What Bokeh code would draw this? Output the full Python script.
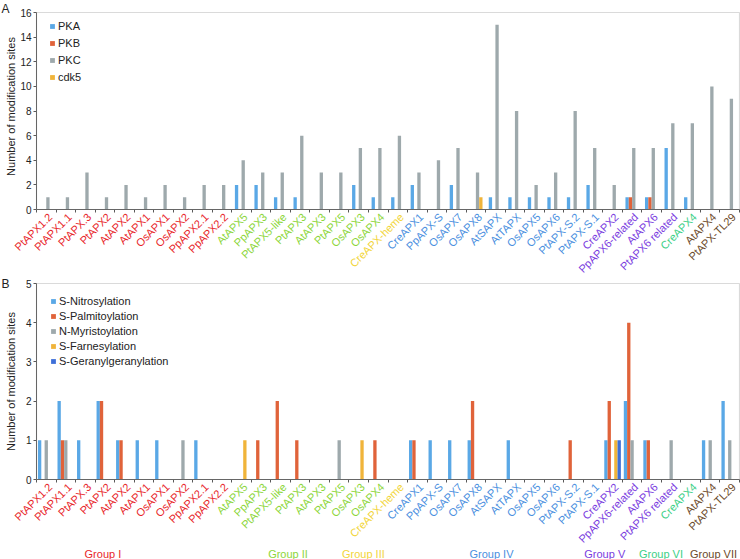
from bokeh.plotting import figure
from bokeh.models import (Range1d, FixedTicker, ColumnDataSource, Legend, LegendItem, LinearAxis,
                          BoxAnnotation, CustomJSTickFormatter)
from bokeh.transform import dodge
from bokeh.layouts import column
from bokeh.embed import file_html
from bokeh.resources import INLINE
from bokeh.core.properties import value

# ---------------- data ----------------
categories = ["PtAPX1.2", "PtAPX1.1", "PtAPX.3", "PtAPX2", "AtAPX2", "AtAPX1", "OsAPX1", "OsAPX2",
              "PpAPX2.1", "PpAPX2.2",
              "AtAPX5", "PpAPX3", "PtAPX5-like", "PtAPX3", "AtAPX3", "PtAPX5", "OsAPX3", "OsAPX4",
              "CreAPX-heme",
              "CreAPX1", "PpAPX-S", "OsAPX7", "OsAPX8", "AtSAPX", "AtTAPX", "OsAPX5", "OsAPX6",
              "PtAPX-S.2", "PtAPX-S.1",
              "CreAPX2", "PpAPX6-related", "AtAPX6", "PtAPX6 related",
              "CreAPX4",
              "AtAPX4", "PtAPX-TL29"]
groups = ["Group I"] * 10 + ["Group II"] * 8 + ["Group III"] + ["Group IV"] * 10 + \
         ["Group V"] * 4 + ["Group VI"] + ["Group VII"] * 2
group_names = ["Group I", "Group II", "Group III", "Group IV", "Group V", "Group VI", "Group VII"]

# Panel A: phosphorylation sites
pka  = [0, 0, 0, 0, 0, 0, 0, 0, 0, 0, 2, 2, 1, 1, 0, 0, 2, 1, 1, 2, 0, 2, 0, 1, 1, 1, 1, 1, 2, 0, 1, 1, 5, 1, 0, 0]
pkb  = [0, 0, 0, 0, 0, 0, 0, 0, 0, 0, 0, 0, 0, 0, 0, 0, 0, 0, 0, 0, 0, 0, 0, 0, 0, 0, 0, 0, 0, 0, 1, 1, 0, 0, 0, 0]
pkc  = [1, 1, 3, 1, 2, 1, 2, 1, 2, 2, 4, 3, 3, 6, 3, 3, 5, 5, 6, 3, 4, 5, 3, 15, 8, 2, 3, 8, 5, 2, 5, 5, 7, 7, 10, 9]
cdk5 = [0, 0, 0, 0, 0, 0, 0, 0, 0, 0, 0, 0, 0, 0, 0, 0, 0, 0, 0, 0, 0, 0, 1, 0, 0, 0, 0, 0, 0, 0, 0, 0, 0, 0, 0, 0]

# Panel B: other modifications
s_nitrosylation = [1, 2, 1, 2, 1, 1, 1, 0, 1, 0, 0, 0, 0, 0, 0, 0, 0, 0, 0, 1, 1, 1, 1, 0, 1, 0, 0, 0, 0, 1, 2, 1, 0, 0, 1, 2]
s_palmitoylation = [0, 1, 0, 2, 1, 0, 0, 0, 0, 0, 0, 1, 2, 1, 0, 0, 0, 1, 0, 1, 0, 0, 2, 0, 0, 0, 0, 1, 0, 2, 4, 1, 0, 0, 0, 0]
n_myristoylation = [1, 1, 0, 0, 0, 0, 0, 1, 0, 0, 0, 0, 0, 0, 0, 1, 0, 0, 0, 0, 0, 0, 0, 0, 0, 0, 0, 0, 0, 0, 1, 0, 1, 0, 1, 1]
s_farnesylation  = [0, 0, 0, 0, 0, 0, 0, 0, 0, 0, 1, 0, 0, 0, 0, 0, 1, 0, 0, 0, 0, 0, 0, 0, 0, 0, 0, 0, 0, 1, 0, 0, 0, 0, 0, 0]
s_geranylgeranylation = [0, 0, 0, 0, 0, 0, 0, 0, 0, 0, 0, 0, 0, 0, 0, 0, 0, 0, 0, 0, 0, 0, 0, 0, 0, 0, 0, 0, 0, 1, 0, 0, 0, 0, 0, 0]

# ---------------- layout / styles ----------------
FONT = "Liberation Sans"
C_BLUE, C_ORANGE, C_GRAY, C_YELLOW, C_DBLUE = "#5aa8e6", "#e0633a", "#9ea9ac", "#f0b43a", "#3e6fd8"
group_colors = {"Group I": "#e8262a", "Group II": "#8cd63a", "Group III": "#f2d53a", "Group IV": "#4a8fe0",
                "Group V": "#7a3ce0", "Group VI": "#3ccf86", "Group VII": "#6b4a2a"}
group_label_x = [3.40, 12.88, 16.74, 23.3, 29.1, 31.98, 34.67]
AXIS_COLOR = "#595959"
BOX_COLOR = "#858585"
TEXT_COLOR = "#222222"
BAR_W = 0.17
N = len(categories)
W = 740
LEFT, RIGHT = 36, 1
UPP = N / (W - LEFT - RIGHT)          # data units per pixel along x
X0 = -LEFT * UPP                      # data x of the canvas' left edge
slot = [i + 0.5 for i in range(N)]   # centre of each category slot
bounds = list(range(N + 1))          # slot boundaries (tick positions)


def make_panel(height, px_top, px_zero, ymax, ystep, series, data, letter,
               legend_left, legend_top, row_h, row_gap, title_center_px, letter_px):
    ppu = (px_zero - px_top) / ymax   # pixels per y unit
    p = figure(width=W, height=height,
               x_range=Range1d(X0, N + RIGHT * UPP),
               y_range=Range1d(-(height - px_zero) / ppu, ymax + px_top / ppu),
               x_axis_location=None, y_axis_location=None, output_backend="svg",
               toolbar_location=None, min_border_left=0, min_border_right=0,
               min_border_top=0, min_border_bottom=0)
    p.xgrid.visible = False
    p.ygrid.visible = False
    p.outline_line_color = None

    # plot box (top and right edges visible)
    p.add_layout(BoxAnnotation(left=0, right=N, bottom=0, top=ymax, fill_alpha=0,
                               line_color=BOX_COLOR, line_width=1.2))

    ya = LinearAxis(fixed_location=0, bounds=(0, ymax),
                    ticker=FixedTicker(ticks=list(range(0, ymax + 1, ystep))))
    ya.axis_line_color = AXIS_COLOR
    ya.major_tick_line_color = AXIS_COLOR
    ya.major_tick_in = 0
    ya.major_tick_out = 3
    ya.minor_tick_line_color = None
    ya.major_label_standoff = 2
    ya.major_label_text_font = FONT
    ya.major_label_text_font_size = "10px"
    ya.major_label_text_color = TEXT_COLOR
    p.add_layout(ya, "left")

    xa = LinearAxis(fixed_location=0, bounds=(0, N), ticker=FixedTicker(ticks=bounds),
                    formatter=CustomJSTickFormatter(code="return ''"))
    xa.axis_line_color = AXIS_COLOR
    xa.major_tick_line_color = AXIS_COLOR
    xa.major_tick_in = 0
    xa.major_tick_out = 3
    xa.minor_tick_line_color = None
    p.add_layout(xa, "below")

    # y-axis title
    p.text(x=[X0 + 10 * UPP], y=[(px_zero - title_center_px) / ppu],
           text=["Number of modification sites"], angle=90,
           angle_units="deg", text_align="center", text_baseline="middle",
           text_font=value(FONT), text_font_size="11px", text_color=TEXT_COLOR)
    # panel letter
    p.text(x=[X0 + 1 * UPP], y=[(px_zero - letter_px) / ppu], text=[letter], text_align="left",
           text_baseline="top", text_font=value(FONT), text_font_size="12px", text_color=TEXT_COLOR)

    src = ColumnDataSource(dict(slot=slot, **data))
    k = len(series)
    items = []
    for i, (key, color, lab) in enumerate(series):
        off = (i - (k - 1) / 2) * BAR_W
        r = p.vbar(x=dodge("slot", off), top=key, width=BAR_W, source=src,
                   fill_color=color, line_color=None)
        items.append(LegendItem(label=lab, renderers=[r]))

    leg_h = k * row_h + (k - 1) * row_gap
    leg = Legend(items=items, location=(legend_left, height - legend_top - leg_h),
                 border_line_color=None, background_fill_alpha=0, margin=0, padding=0,
                 spacing=row_gap, glyph_width=6, glyph_height=6, label_height=row_h,
                 label_standoff=3, label_text_font=FONT, label_text_font_size="11px",
                 label_text_color=TEXT_COLOR)
    p.add_layout(leg)

    # category labels under the axis
    lsrc = ColumnDataSource(dict(cat=categories, slot=slot, color=[group_colors[g] for g in groups]))
    p.text(x=dodge("slot", 4 * UPP), y=-5.5 / ppu, text="cat", source=lsrc, angle=45,
           angle_units="deg", text_align="right", text_baseline="middle", text_color="color",
           text_font_size="11px", text_font=value(FONT))
    return p, ppu


# panel A occupies page rows 0-276, panel B rows 276-559
pA, ppuA = make_panel(276, 12, 209, 16, 2,
                      [("pka", C_BLUE, "PKA"), ("pkb", C_ORANGE, "PKB"), ("pkc", C_GRAY, "PKC"),
                       ("cdk5", C_YELLOW, "cdk5")],
                      dict(pka=pka, pkb=pkb, pkc=pkc, cdk5=cdk5), "A",
                      49, 19, 13, 4, 106, 1)

pB, ppuB = make_panel(283, 7, 203, 5, 1,
                      [("sn", C_BLUE, "S-Nitrosylation"), ("sp", C_ORANGE, "S-Palmitoylation"),
                       ("nm", C_GRAY, "N-Myristoylation"), ("sf", C_YELLOW, "S-Farnesylation"),
                       ("sg", C_DBLUE, "S-Geranylgeranylation")],
                      dict(sn=s_nitrosylation, sp=s_palmitoylation, nm=n_myristoylation,
                           sf=s_farnesylation, sg=s_geranylgeranylation), "B",
                      50, 19, 12, 3, 105, 0)

gsrc = ColumnDataSource(dict(x=group_label_x, name=group_names,
                             color=[group_colors[g] for g in group_names]))
pB.text(x="x", y=-74 / ppuB, text="name", source=gsrc, text_align="center", text_baseline="middle",
        text_color="color", text_font=value(FONT), text_font_size="11px")

layout = column(pA, pB, spacing=0)
open("out.html", "w").write(file_html(layout, INLINE))
